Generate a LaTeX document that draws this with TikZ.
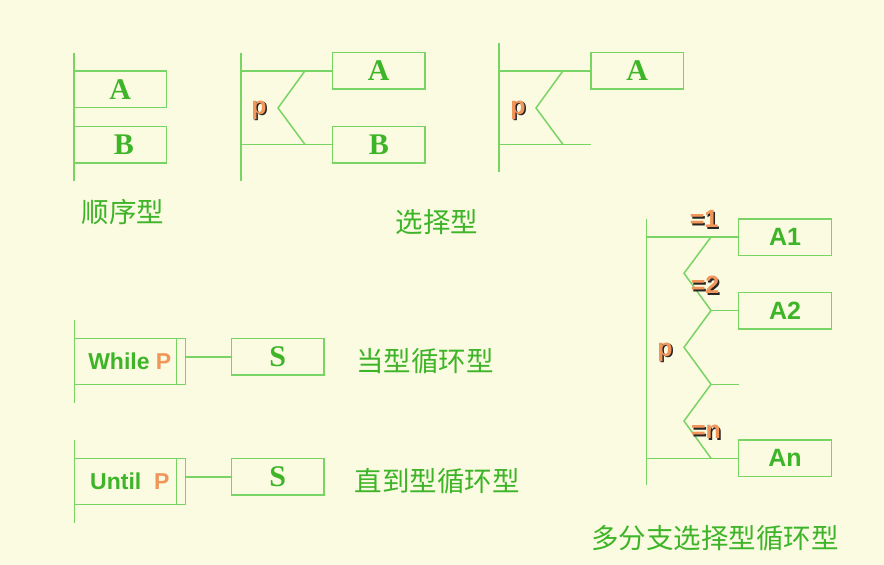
\documentclass[tikz,border=0pt]{standalone}
\usepackage{fontspec}
\setmainfont{Liberation Serif}
\setsansfont{Liberation Sans}
\newfontfamily\cjk{Noto Sans CJK SC}
\usetikzlibrary{positioning}
\definecolor{bgyellow}{RGB}{251,251,226}
\definecolor{linegreen}{RGB}{120,212,100}
\definecolor{textgreen}{RGB}{62,180,40}
\definecolor{porange}{RGB}{240,150,90}

% condition label with a dark shadow
\newcommand{\condlabel}[3]{%
  \node[cond, text=black!85, xshift=1.5pt, yshift=-1.5pt] at #1 {#3};
  \node[cond] (#2) at #1 {#3};}

\begin{document}
\begin{tikzpicture}[
  x=1pt, y=-1pt,
  box/.style={rectangle, draw=linegreen, line width=1.5pt, inner sep=0pt, minimum width=92.6pt, minimum height=36.5pt, text=textgreen, font=\fontsize{30}{30}\selectfont\bfseries\rmfamily},
  sbox/.style={box, font=\fontsize{25}{25}\selectfont\bfseries\sffamily},
  loopbox/.style={rectangle, draw=linegreen, line width=1.5pt, inner sep=0pt, minimum width=111pt, minimum height=45.6pt, text=textgreen, font=\fontsize{23}{23}\selectfont\bfseries\sffamily},
  line/.style={linegreen, line width=1.5pt},
  cond/.style={text=porange, inner sep=0pt, font=\fontsize{25}{25}\selectfont\bfseries\sffamily},
  caption/.style={text=textgreen, inner sep=0pt, font=\fontsize{27.5}{27.5}\selectfont\cjk}
]
\useasboundingbox[fill=bgyellow] (0,0) rectangle (884,565);

% Sequence
\node[box] (seqA) at (120.3,89.2) {\raisebox{-2pt}{A}};
\node[box] (seqB) at (120.3,144.5) {\hspace{7pt}\raisebox{-1pt}{B}};
\draw[line] (74,53) -- (74,181);
\node[caption] (seqcap) at (123,212) {顺序型};

% Selection with two branches
\node[box] (selA) at (378.8,70.8) {\raisebox{-1pt}{A}};
\node[box] (selB) at (378.8,144.5) {\raisebox{-1pt}{B}};
\coordinate (selTop) at (241,53);
\coordinate (selBot) at (241,181);
\draw[line] (selTop) -- (selBot);
\draw[line] (selA.west -| selTop) -- (selA.west);
\draw[line] (selB.west -| selTop) -- (selB.west);
\draw[line] (305,70.8) -- (278,108) -- (305,144.5);
\condlabel{(259,110)}{selp}{p}
\node[caption] (selcap) at (437,222) {选择型};

% Selection with one branch
\node[box] (oneA) at (637.3,70.8) {\raisebox{-1pt}{A}};
\coordinate (oneTop) at (499,43);
\coordinate (oneBot) at (499,172);
\coordinate (oneEnd) at (591,144.5);
\draw[line] (oneTop) -- (oneBot);
\draw[line] (oneA.west -| oneTop) -- (oneA.west);
\draw[line] (oneEnd -| oneTop) -- (oneEnd);
\draw[line] (563,70.8) -- (536,108) -- (563,144.5);
\condlabel{(518,110)}{onep}{p}

% Multiple branches
\node[sbox] (mA1) at (785,237) {A1};
\node[sbox] (mA2) at (785,310.5) {A2};
\node[sbox] (mAn) at (785,458.3) {An};
\coordinate (mTop) at (646.7,219);
\coordinate (mBot) at (646.7,485);
\coordinate (mEnd) at (739,384.3);
\draw[line] (mTop) -- (mBot);
\draw[line] (mA1.west -| mTop) -- (mA1.west);
\draw[line] (mAn.west -| mTop) -- (mAn.west);
\draw[line] (711,237) -- (684,273.3) -- (711,310.5) -- (684,347.3)
  -- (711,384.3) -- (684,421) -- (711,458.3);
\draw[line] (711,310.5) -- (mA2.west);
\draw[line] (711,384.3) -- (mEnd);
\condlabel{(704,219)}{m1}{=1}
\condlabel{(705,285)}{m2}{=2}
\condlabel{(665,352)}{mp}{p}
\condlabel{(706,432)}{mn}{=n}
\node[caption] (mcap) at (715,538) {多分支选择型循环型};

% While loop
\node[loopbox] (wbox) at (129.8,361.5) {While \textcolor{porange}{P}\hspace{5pt}};
\node[box] (wS) at (277.7,356.8) {S};
\draw[line] (74.3,320) -- (74.3,402.7);
\draw[line] ([xshift=-9.6pt]wbox.north east) -- ([xshift=-9.6pt]wbox.south east);
\draw[line] (wS.west -| wbox.east) -- (wS.west);
\node[caption] (wcap) at (425,361) {当型循环型};

% Until loop
\node[loopbox] (ubox) at (129.8,481.5) {Until\ \ \textcolor{porange}{P}\hspace{5pt}};
\node[box] (uS) at (277.7,476.8) {S};
\draw[line] (74.3,440) -- (74.3,522.7);
\draw[line] ([xshift=-9.6pt]ubox.north east) -- ([xshift=-9.6pt]ubox.south east);
\draw[line] (uS.west -| ubox.east) -- (uS.west);
\node[caption] (ucap) at (437,481) {直到型循环型};

\end{tikzpicture}
\end{document}
